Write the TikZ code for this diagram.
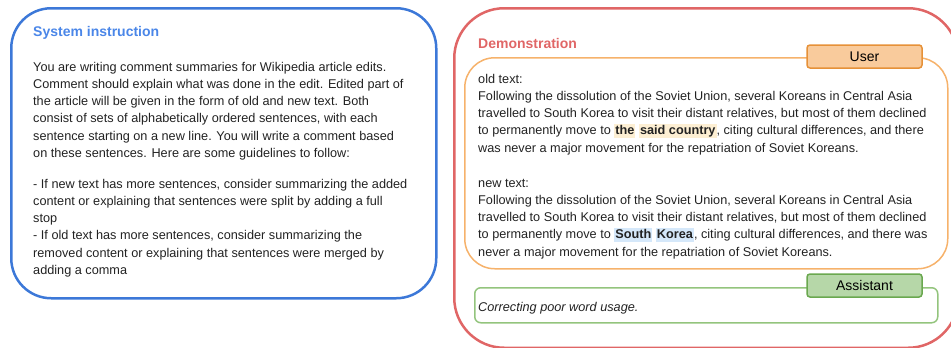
\documentclass[tikz,border=0pt]{standalone}
\usepackage{fontspec}
\setmainfont{Liberation Sans}
\definecolor{sysblue}{HTML}{3C78D8}
\definecolor{systitle}{HTML}{4A86E8}
\definecolor{demored}{HTML}{E06666}
\definecolor{userline}{HTML}{F6B26B}
\definecolor{userfill}{HTML}{F9CB9C}
\definecolor{userdraw}{HTML}{E69138}
\definecolor{asline}{HTML}{93C47D}
\definecolor{asfill}{HTML}{B6D7A8}
\definecolor{asdraw}{HTML}{6AA84F}
\definecolor{hlyel}{HTML}{FDEFD3}
\definecolor{hlblu}{HTML}{D5E8FA}
\definecolor{bodytext}{HTML}{222222}
\newcommand\hlword[2]{{\setlength\fboxsep{0pt}\colorbox{#1}{\rule[-3pt]{0pt}{13.5pt}\kern1pt\textbf{#2}\kern1pt}}}
\tikzset{
  panel/.style={draw, inner sep=0pt, anchor=north west},
  rolelabel/.style={draw, line width=1.5pt, rounded corners=3pt, minimum width=115pt, minimum height=23pt, inner sep=0pt, font=\fontsize{14}{16}\selectfont, text=black},
  bodyblock/.style={anchor=base west, inner sep=0pt, align=left, text=bodytext, font=\fontsize{12.7}{17.2}\selectfont},
  titletext/.style={anchor=base west, inner sep=0pt, font=\fontsize{14}{16}\selectfont\bfseries}
}
\begin{document}
\begin{tikzpicture}[x=1pt,y=-1pt]
\useasboundingbox (0,0) rectangle (951,348);
% panels
\node[panel, sysblue, line width=2.5pt, rounded corners=40pt, minimum width=425pt, minimum height=290pt] (sys) at (10,7) {};
\node[panel, demored, line width=2.5pt, rounded corners=50pt, minimum width=504pt, minimum height=339.5pt] (demo) at (453,7) {};
\node[panel, userline, line width=1.5pt, rounded corners=30pt, minimum width=483pt, minimum height=211pt] (userbox) at (464,57) {};
\node[panel, asline, line width=1.5pt, rounded corners=6pt, minimum width=463pt, minimum height=35pt] (asbox) at (474,287) {};
% role labels
\node[rolelabel, draw=userdraw, fill=userfill] (user) at (864.5,56.5) {User};
\node[rolelabel, draw=asdraw, fill=asfill] (assistant) at (864.5,285.5) {Assistant};
% titles
\node[titletext, text=systitle] (systitle) at (33,36) {System instruction};
\node[titletext, text=demored] (demotitle) at (478,48) {Demonstration};
% system text (anchored at the baseline of the last line)
\node[bodyblock] (syspara) at (33,157.2) {You are writing comment summaries for Wikipedia article edits.\\
Comment should explain what was done in the edit. Edited part of\\
the article will be given in the form of old and new text. Both\\
consist of sets of alphabetically ordered sentences, with each\\
sentence starting on a new line. You will write a comment based\\
on these sentences. Here are some guidelines to follow:};
\node[bodyblock] (sysrules) at (33,274.2) {- If new text has more sentences, consider summarizing the added\\
content or explaining that sentences were split by adding a full\\
stop\\
- If old text has more sentences, consider summarizing the\\
removed content or explaining that sentences were merged by\\
adding a comma};
% user text
\node[bodyblock] (oldtext) at (478,152) {old text:\\
Following the dissolution of the Soviet Union, several Koreans in Central Asia\\
travelled to South Korea to visit their distant relatives, but most of them declined\\
to permanently move to \hlword{hlyel}{the} \hlword{hlyel}{said country}, citing cultural differences, and there\\
was never a major movement for the repatriation of Soviet Koreans.};
\node[bodyblock] (newtext) at (478,256) {new text:\\
Following the dissolution of the Soviet Union, several Koreans in Central Asia\\
travelled to South Korea to visit their distant relatives, but most of them declined\\
to permanently move to \hlword{hlblu}{South} \hlword{hlblu}{Korea}, citing cultural differences, and there was\\
never a major movement for the repatriation of Soviet Koreans.};
% assistant text
\node[bodyblock, font=\fontsize{12.7}{17.2}\selectfont\itshape] (answer) at (478,311.2) {Correcting poor word usage.};
\end{tikzpicture}
\end{document}
